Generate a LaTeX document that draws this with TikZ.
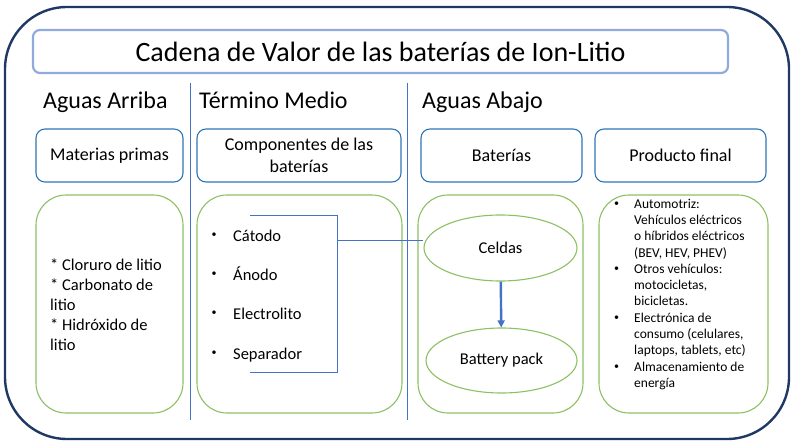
\documentclass[tikz,border=0pt]{standalone}
\usepackage{fontspec}
\setmainfont{Carlito}
\usetikzlibrary{arrows.meta,shapes.geometric}
\definecolor{navy}{HTML}{203864}
\definecolor{titleblue}{HTML}{8FAADC}
\definecolor{lineblue}{HTML}{4472C4}
\definecolor{boxblue}{HTML}{2E75B6}
\definecolor{boxgreen}{HTML}{8CC063}
\newcommand{\dotmark}{{\fontsize{10}{12}\selectfont\raisebox{1.5pt}{\textbullet}}}
\begin{document}
\begin{tikzpicture}[x=1pt,y=-1pt,
        hbox/.style={draw=boxblue,line width=1.1pt,rounded corners=9pt,minimum height=53pt,
            align=center,font=\fontsize{18}{21.5}\selectfont},
        gbox/.style={draw=boxgreen,line width=1.1pt,rounded corners=30pt,minimum height=218pt},
        cell/.style={draw=boxgreen,line width=1.1pt,ellipse,inner sep=0pt,font=\fontsize{16.5}{20}\selectfont},
        head/.style={anchor=base west,inner sep=0pt,font=\fontsize{24}{29}\selectfont},
        item/.style={anchor=base west,inner sep=0pt,font=\fontsize{16.5}{20}\selectfont}
    ]
    \useasboundingbox (0,0) rectangle (791,441);
    %% frame
    \draw[navy,line width=2.4pt,rounded corners=62pt] (5,7) rectangle (789,439);
    \node[draw=titleblue,line width=2.2pt,rounded corners=7pt,minimum width=695pt,minimum height=43pt,
        font=\fontsize{28}{34}\selectfont] (title) at (380.5,51.5) {Cadena de Valor de las baterías de Ion-Litio};
    %% stages
    \node[head] (arriba) at (43,109) {Aguas Arriba};
    \node[head] (medio) at (199,109) {Término Medio};
    \node[head] (abajo) at (422,109) {Aguas Abajo};
    \draw[lineblue,line width=0.8pt] (190,83) -- (190,420);
    \draw[lineblue,line width=0.8pt] (407,83) -- (407,420);
    %% header boxes
    \node[hbox,minimum width=147pt] (mat) at (109.5,155.5) {Materias primas};
    \node[hbox,minimum width=204pt] (comp) at (299,155.5) {Componentes de las\\baterías};
    \node[hbox,minimum width=161pt] (bat) at (501.5,155.5) {Baterías};
    \node[hbox,minimum width=171pt] (prod) at (680.5,155.5) {Producto final};
    %% content boxes
    \node[gbox,minimum width=147pt] (g1) at (109.5,304) {};
    \node[gbox,minimum width=205pt] (g2) at (299.5,304) {};
    \node[gbox,minimum width=165pt] (g3) at (500.5,304) {};
    \node[gbox,minimum width=169pt] (g4) at (683.5,304) {};
    %% raw materials
    \node[anchor=west,inner sep=0pt,align=left,font=\fontsize{16.5}{20}\selectfont] (sales) at (50,305)
        {* Cloruro de litio\\* Carbonato de\\litio\\* Hidróxido de\\litio};
    %% components
    \foreach \y/\t/\n in {235/Cátodo/cat,274/Ánodo/ano,313/Electrolito/ele,353/Separador/sep} {
        \node[inner sep=0pt,font=\fontsize{10}{12}\selectfont] (b\n) at (214,\y) {\textbullet};
        \node[item] (\n) at (233,\y+6) {\t};
    }
    \coordinate (brtop) at (250,215);
    \coordinate (brbot) at (250,372);
    \coordinate (brout) at (337,240);
    \draw[lineblue,line width=0.8pt] (brtop) -- (brtop -| brout) -- (brbot -| brout) -- (brbot);
    %% cells and pack
    \node[cell,minimum width=153pt,minimum height=66pt] (celdas) at (500.5,248) {Celdas};
    \node[cell,minimum width=151pt,minimum height=65pt] (pack) at (501.5,360.5) {Battery pack};
    \draw[lineblue,line width=0.8pt] (brout) -- (celdas.west |- brout);
    \draw[lineblue,line width=2.4pt,-{Triangle[length=7pt,width=7pt]}] (celdas) -- (pack);
    %% end products
    \node[anchor=west,inner sep=0pt,font=\fontsize{13.5}{16.3}\selectfont] (usos) at (614,294.5)
        {\begin{tabular}{@{}p{20pt}@{}l@{}}
        \dotmark & Automotriz:\\
         & Vehículos eléctricos\\
         & o híbridos eléctricos\\
         & (BEV, HEV, PHEV)\\
        \dotmark & Otros vehículos:\\
         & motocicletas,\\
         & bicicletas.\\
        \dotmark & Electrónica de\\
         & consumo (celulares,\\
         & laptops, tablets, etc)\\
        \dotmark & Almacenamiento de\\
         & energía
        \end{tabular}};
\end{tikzpicture}
\end{document}
